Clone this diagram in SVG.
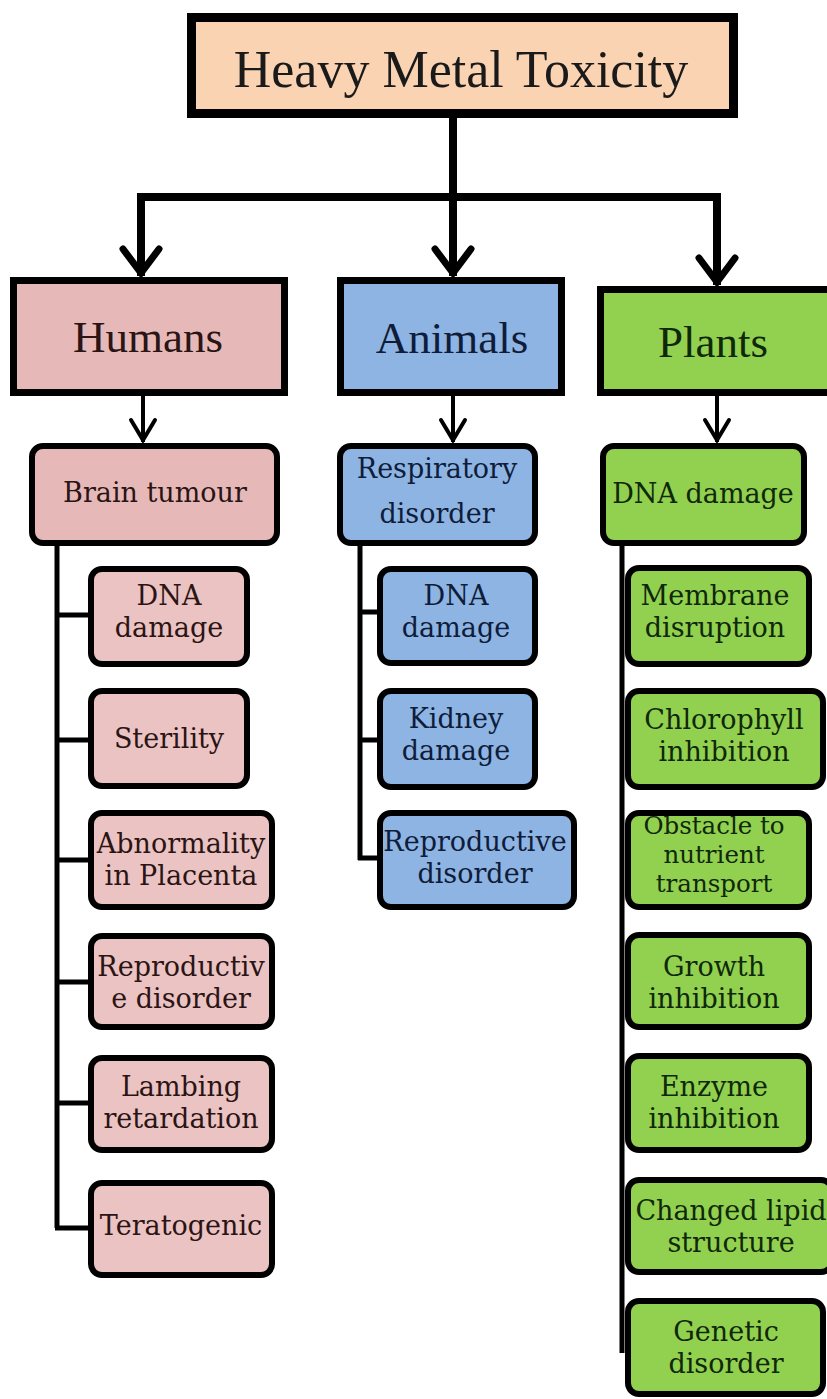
<svg xmlns="http://www.w3.org/2000/svg" width="827" height="1399" viewBox="0 0 827 1399">
<style>
text{font-family:"Liberation Serif","Times New Roman",serif;text-anchor:middle;fill:#1a1a1a}
.t0{font-size:52px}
.t1{font-size:45px}
.t2{font-family:"DejaVu Serif","Liberation Serif",serif;font-size:27px}
.t3{font-family:"DejaVu Serif","Liberation Serif",serif;font-size:24.5px}
.main{stroke:#000;stroke-width:7}
.sub{stroke:#000;stroke-width:6}
.peach{fill:#FAD3B3}
.pink{fill:#E6B9B8}
.pink2{fill:#EAC3C2}
.blue{fill:#8DB4E2}
.green{fill:#92D050}
.hum text{fill:#2a1414}
.ani text{fill:#0f1c3a}
.pla text{fill:#10280a}
.lnB{stroke:#000;stroke-width:8;fill:none}
.lnS{stroke:#000;stroke-width:4;fill:none}
.lnC{stroke:#000;stroke-width:5;fill:none}
</style>
<defs>
<marker id="bigArrow" markerUnits="userSpaceOnUse" viewBox="-34 -26 40 52" refX="0" refY="0" markerWidth="40" markerHeight="52" orient="auto">
<path d="M-27,-18 L-3,0 L-27,18" fill="none" stroke="#000" stroke-width="7" stroke-linecap="round"/>
</marker>
<marker id="smallArrow" markerUnits="userSpaceOnUse" viewBox="-28 -16 32 32" refX="0" refY="0" markerWidth="32" markerHeight="32" orient="auto">
<path d="M-22,-12 L-2,0 L-22,12" fill="none" stroke="#000" stroke-width="4" stroke-linecap="round"/>
</marker>
</defs>
<rect width="827" height="1399" fill="#fff"/>

<g id="connectors">
<path class="lnB" d="M453,118 V276" marker-end="url(#bigArrow)"/>
<path class="lnB" d="M141,197 H717"/>
<path class="lnB" d="M141,193 V276" marker-end="url(#bigArrow)"/>
<path class="lnB" d="M717,193 V285" marker-end="url(#bigArrow)"/>
<path class="lnS" d="M143,396 V442" marker-end="url(#smallArrow)"/>
<path class="lnS" d="M453,396 V442" marker-end="url(#smallArrow)"/>
<path class="lnS" d="M717,396 V442" marker-end="url(#smallArrow)"/>
<path class="lnC" d="M57,545 V1228 M55,615 H89 M55,740 H89 M55,860 H89 M55,982 H89 M55,1103 H89 M55,1228 H89"/>
<path class="lnC" d="M360,545 V860 M358,612 H378 M358,740 H378 M358,858 H378"/>
<path class="lnC" d="M622,545 V1353"/>
</g>

<g id="title"><rect class="main peach" x="191.5" y="17.5" width="542" height="96" style="stroke-width:9"/><text class="t0" x="461" y="87">Heavy Metal Toxicity</text></g>

<g id="humans" class="hum"><rect class="main pink" x="13.5" y="280.5" width="271" height="112"/><text class="t1" x="148" y="352">Humans</text></g>
<g id="animals" class="ani"><rect class="main blue" x="340.5" y="280.5" width="221" height="112"/><text class="t1" x="452" y="353">Animals</text></g>
<g id="plants" class="pla"><rect class="main green" x="600.5" y="289.5" width="232" height="103"/><text class="t1" x="713" y="357">Plants</text></g>

<g id="h-brain" class="hum"><rect class="sub pink" x="32" y="446" width="245" height="97" rx="11"/><text class="t2" x="155" y="502">Brain tumour</text></g>
<g id="h-dna" class="hum"><rect class="sub pink2" x="91" y="569" width="156" height="95" rx="11"/><text class="t2" x="169" y="605">DNA</text><text class="t2" x="169" y="637">damage</text></g>
<g id="h-sterility" class="hum"><rect class="sub pink2" x="91" y="691" width="156" height="95" rx="11"/><text class="t2" x="169" y="748">Sterility</text></g>
<g id="h-placenta" class="hum"><rect class="sub pink2" x="91" y="813" width="181" height="94" rx="11"/><text class="t2" x="181" y="853">Abnormality</text><text class="t2" x="181" y="885">in Placenta</text></g>
<g id="h-repro" class="hum"><rect class="sub pink2" x="91" y="936" width="181" height="91" rx="11"/><text class="t2" x="181" y="976">Reproductiv</text><text class="t2" x="181" y="1008">e disorder</text></g>
<g id="h-lambing" class="hum"><rect class="sub pink2" x="91" y="1058" width="181" height="92" rx="11"/><text class="t2" x="181" y="1096">Lambing</text><text class="t2" x="181" y="1128">retardation</text></g>
<g id="h-terato" class="hum"><rect class="sub pink2" x="91" y="1183" width="181" height="92" rx="11"/><text class="t2" x="181" y="1235">Teratogenic</text></g>

<g id="a-resp" class="ani"><rect class="sub blue" x="340" y="446" width="195" height="97" rx="11"/><text class="t2" x="437" y="478">Respiratory</text><text class="t2" x="437" y="523">disorder</text></g>
<g id="a-dna" class="ani"><rect class="sub blue" x="380" y="569" width="155" height="94" rx="11"/><text class="t2" x="456" y="605">DNA</text><text class="t2" x="456" y="637">damage</text></g>
<g id="a-kidney" class="ani"><rect class="sub blue" x="380" y="691" width="155" height="96" rx="11"/><text class="t2" x="456" y="728">Kidney</text><text class="t2" x="456" y="760">damage</text></g>
<g id="a-repro" class="ani"><rect class="sub blue" x="380" y="813" width="194" height="94" rx="11"/><text class="t2" x="475" y="851">Reproductive</text><text class="t2" x="475" y="883">disorder</text></g>

<g id="p-dna" class="pla"><rect class="sub green" x="603" y="446" width="201" height="97" rx="11"/><text class="t2" x="703" y="503">DNA damage</text></g>
<g id="p-membrane" class="pla"><rect class="sub green" x="628" y="568" width="181" height="96" rx="11"/><text class="t2" x="715" y="605">Membrane</text><text class="t2" x="715" y="637">disruption</text></g>
<g id="p-chloro" class="pla"><rect class="sub green" x="628" y="691" width="195" height="96" rx="11"/><text class="t2" x="724" y="729">Chlorophyll</text><text class="t2" x="724" y="761">inhibition</text></g>
<g id="p-obstacle" class="pla"><rect class="sub green" x="628" y="813" width="181" height="94" rx="11"/><text class="t3" x="714" y="834">Obstacle to</text><text class="t3" x="714" y="863">nutrient</text><text class="t3" x="714" y="892">transport</text></g>
<g id="p-growth" class="pla"><rect class="sub green" x="628" y="935" width="181" height="92" rx="11"/><text class="t2" x="714" y="976">Growth</text><text class="t2" x="714" y="1008">inhibition</text></g>
<g id="p-enzyme" class="pla"><rect class="sub green" x="628" y="1056" width="181" height="94" rx="11"/><text class="t2" x="714" y="1096">Enzyme</text><text class="t2" x="714" y="1128">inhibition</text></g>
<g id="p-lipid" class="pla"><rect class="sub green" x="628" y="1180" width="204" height="92" rx="11"/><text class="t2" x="731" y="1220">Changed lipid</text><text class="t2" x="731" y="1252">structure</text></g>
<g id="p-genetic" class="pla"><rect class="sub green" x="628" y="1301" width="195" height="93" rx="11"/><text class="t2" x="726" y="1341">Genetic</text><text class="t2" x="726" y="1373">disorder</text></g>
</svg>
